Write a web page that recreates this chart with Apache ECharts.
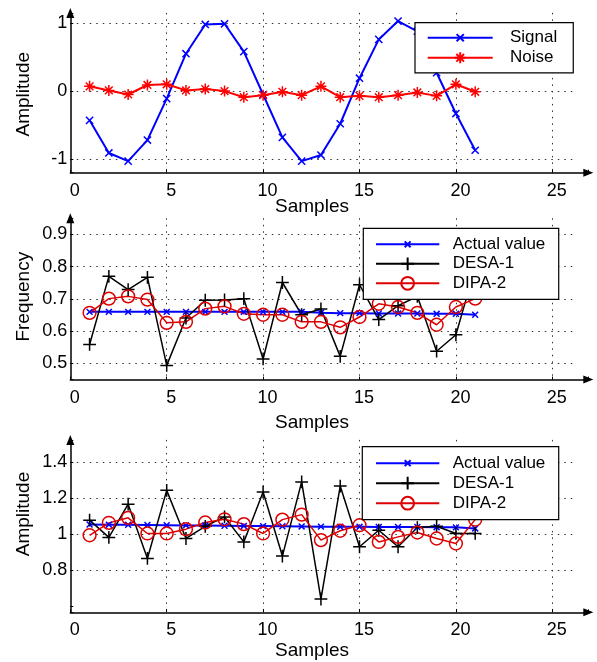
<!DOCTYPE html>
<html>
<head>
<meta charset="utf-8">
<script src="https://cdn.jsdelivr.net/npm/echarts@6/dist/echarts.min.js"></script>
<style>
html, body { margin: 0; padding: 0; background: #fff; }
#chart { width: 597px; height: 662px; }
</style>
</head>
<body>
<div id="chart"></div>
<script>
var samples = [1, 2, 3, 4, 5, 6, 7, 8, 9, 10, 11, 12, 13, 14, 15, 16, 17, 18, 19, 20, 21];

// top panel
var signal = [-0.43, -0.91, -1.03, -0.72, -0.11, 0.55, 0.98, 0.99, 0.58, -0.05, -0.68,
	-1.03, -0.94, -0.48, 0.19, 0.76, 1.03, 0.88, 0.27, -0.33, -0.87];
var noise = [0.07, 0.01, -0.05, 0.09, 0.10, 0.01, 0.03, 0.00, -0.09, -0.06, -0.01,
	-0.06, 0.07, -0.09, -0.07, -0.09, -0.06, -0.02, -0.07, 0.10, -0.01];

// middle panel (frequency)
var freqActual = [0.66, 0.66, 0.66, 0.66, 0.66, 0.66, 0.66, 0.66, 0.66, 0.66, 0.66,
	0.66, 0.657, 0.656, 0.656, 0.655, 0.655, 0.655, 0.654, 0.654, 0.651];
var freqDesa = [0.559, 0.770, 0.729, 0.767, 0.494, 0.641, 0.696, 0.697, 0.701, 0.514, 0.751,
	0.651, 0.669, 0.522, 0.744, 0.636, 0.679, 0.708, 0.538, 0.589, 0.797];
var freqDipa = [0.657, 0.701, 0.708, 0.698, 0.626, 0.629, 0.670, 0.677, 0.654, 0.651, 0.651,
	0.629, 0.629, 0.612, 0.644, 0.685, 0.675, 0.657, 0.620, 0.675, 0.701];

// bottom panel (amplitude)
var ampActual = [1.054, 1.053, 1.052, 1.051, 1.050, 1.049, 1.048, 1.047, 1.046, 1.045, 1.044,
	1.043, 1.042, 1.041, 1.041, 1.040, 1.040, 1.040, 1.039, 1.038, 1.032];
var ampDesa = [1.078, 0.982, 1.167, 0.865, 1.244, 0.976, 1.044, 1.096, 0.957, 1.235, 0.878,
	1.291, 0.639, 1.268, 0.930, 1.022, 0.930, 1.037, 1.044, 1.004, 1.004];
var ampDipa = [0.994, 1.063, 1.091, 1.004, 1.004, 1.028, 1.065, 1.083, 1.056, 1.004, 1.081,
	1.109, 0.967, 1.019, 1.050, 0.957, 0.985, 1.009, 0.976, 0.948, 1.081];

// tick labels
var xTicks = [0, 5, 10, 15, 20, 25];
var signalTicks = [-1, 0, 1];
var freqTicks = [0.5, 0.6, 0.7, 0.8, 0.9];
var ampTicks = [0.8, 1, 1.2, 1.4];

var FONT = '"Liberation Sans", Arial, Helvetica, sans-serif';
var X0 = 70.3, UX = 19.28, XMAX = 26.3, XEND = 588.3;

// marker shapes drawn inside a 100x100 box (the M0,0M100,100 keeps the box size)
var SYM_X_BIG = 'path://M0,0M100,100M22,22L78,78M78,22L22,78';
var SYM_X_SMALL = 'path://M0,0M100,100M27,27L73,73M73,27L27,73';
var SYM_STAR = 'path://M0,0M100,100M50,7L50,93M7,50L93,50M20,20L80,80M80,20L20,80';
var SYM_PLUS = 'path://M50,0L50,100M0,50L100,50';
var SYM_SIZE = 12.8;

function pairs(ys) {
	return samples.map(function (x, i) { return [x, ys[i]]; });
}

function hasTick(list, v) {
	return list.some(function (t) { return Math.abs(t - v) < 1e-6; });
}

// echarts adds the axis ends as extra ticks, only colour the real grid lines
function gridColors(min, max, step, list) {
	var vals = [];
	var k0 = Math.ceil(min / step - 1e-9);
	if (k0 * step - min > 1e-9) vals.push(min);
	for (var k = k0; k * step <= max + 1e-9; k++) vals.push(+(k * step).toFixed(6));
	if (max - vals[vals.length - 1] > 1e-9) vals.push(max);
	return vals.map(function (v) { return hasTick(list, v) ? '#333' : 'rgba(0,0,0,0)'; });
}

var panels = [
	{ top: 12.9, bottom: 172.7, min: -1.2, max: 1.15, step: 1, split: 2, ticks: signalTicks, title: 'Amplitude', titleY: 94.2, xlabY: 207 },
	{ top: 218.3, bottom: 379.6, min: 0.45, max: 0.95, step: 0.1, split: 5, ticks: freqTicks, title: 'Frequency', titleY: 296.7, xlabY: 423 },
	{ top: 439.9, bottom: 612.3, min: 0.565, max: 1.525, step: 0.2, split: 5, ticks: ampTicks, title: 'Amplitude', titleY: 514, xlabY: 650.7 }
];

var grids = [], xAxes = [], yAxes = [], graphics = [];
var axisLineStyle = { color: '#000', width: 1.5 };
var dotted = [1.5, 5];

panels.forEach(function (p, i) {
	// plotting area
	grids.push({ left: X0, top: p.top, width: XMAX * UX, height: p.bottom - p.top, containLabel: false, outerBoundsMode: 'none' });
	xAxes.push({
		type: 'value', gridIndex: i, min: 0, max: XMAX, interval: 5,
		axisLine: { show: false }, axisTick: { show: false }, axisLabel: { show: false },
		splitLine: { show: true, lineStyle: { color: gridColors(0, XMAX, 5, [5, 10, 15, 20, 25]), type: dotted, width: 1 } }
	});
	yAxes.push({
		type: 'value', gridIndex: i, min: p.min, max: p.max, splitNumber: p.split,
		axisLine: { show: true, onZero: false, symbol: ['none', 'triangle'], symbolSize: [8, 10], lineStyle: axisLineStyle },
		axisTick: { show: true, inside: true, length: 3, lineStyle: { color: '#000', width: 1 } },
		axisLabel: {
			fontSize: 18, color: '#000', fontFamily: FONT, margin: 3,
			formatter: function (v) { return hasTick(p.ticks, v) ? String(v) : ''; }
		},
		splitLine: { show: true, lineStyle: { color: gridColors(p.min, p.max, p.step, p.ticks), type: dotted, width: 1 } }
	});

	graphics.push({
		type: 'text', x: 24, y: p.titleY, rotation: Math.PI / 2,
		style: { text: p.title, fontSize: 19, fontFamily: FONT, fill: '#000', align: 'center', verticalAlign: 'middle', textAlign: 'center', textVerticalAlign: 'middle' }
	});
	graphics.push({
		type: 'text', x: 312, y: p.xlabY,
		style: { text: 'Samples', fontSize: 19, fontFamily: FONT, fill: '#000', align: 'center', verticalAlign: 'middle', textAlign: 'center', textVerticalAlign: 'middle' }
	});
});

// wider grids only for the x axis line with its arrow
panels.forEach(function (p, i) {
	grids.push({ left: X0, top: p.top, width: XEND - X0, height: p.bottom - p.top, containLabel: false, outerBoundsMode: 'none' });
	xAxes.push({
		type: 'value', gridIndex: 3 + i, min: 0, max: (XEND - X0) / UX, interval: 5,
		axisLine: { show: true, onZero: false, symbol: ['none', 'triangle'], symbolSize: [8, 10], lineStyle: axisLineStyle },
		axisTick: { show: true, inside: true, length: 3, lineStyle: { color: '#000', width: 1 } },
		axisLabel: {
			fontSize: 18, color: '#000', fontFamily: FONT, margin: 9, padding: [0, 0, 0, 9],
			formatter: function (v) { return hasTick(xTicks, v) ? String(v) : ''; }
		},
		splitLine: { show: false }
	});
	yAxes.push({ type: 'value', gridIndex: 3 + i, min: 0, max: 1, show: false });
});

function lineSeries(name, panel, ys, symbol, color, width, fill) {
	return {
		name: name, type: 'line', xAxisIndex: panel, yAxisIndex: panel,
		data: pairs(ys), symbol: symbol, symbolSize: SYM_SIZE, showAllSymbol: true,
		lineStyle: { color: color, width: width },
		itemStyle: { color: fill || color, borderColor: color, borderWidth: 1.5 },
		emphasis: { disabled: true }
	};
}

var BLUE = '#0000ff', RED = '#ff0000', DRED = '#dd0000', BLACK = '#000000', NOFILL = 'rgba(0,0,0,0)';

var series = [
	lineSeries('Signal', 0, signal, SYM_X_BIG, BLUE, 2, NOFILL),
	lineSeries('Noise', 0, noise, SYM_STAR, RED, 2, NOFILL),
	lineSeries('Actual value', 1, freqActual, SYM_X_SMALL, BLUE, 2, NOFILL),
	lineSeries('DESA-1', 1, freqDesa, SYM_PLUS, BLACK, 1.5, NOFILL),
	lineSeries('DIPA-2', 1, freqDipa, 'circle', DRED, 1.5, NOFILL),
	lineSeries('Actual value', 2, ampActual, SYM_X_SMALL, BLUE, 2, NOFILL),
	lineSeries('DESA-1', 2, ampDesa, SYM_PLUS, BLACK, 1.5, NOFILL),
	lineSeries('DIPA-2', 2, ampDipa, 'circle', DRED, 1.5, NOFILL)
];

function legendBox(names, left, top, pad, itemWidth, gap, textGap) {
	return {
		data: names, orient: 'vertical', left: left, top: top, padding: pad,
		itemWidth: itemWidth, itemHeight: 16, itemGap: gap, selectedMode: false,
		backgroundColor: '#fff', borderColor: '#000', borderWidth: 1.2, borderRadius: 0,
		textStyle: { fontSize: 17, color: '#000', fontFamily: FONT, padding: [0, 0, 0, textGap] }
	};
}

var chart = echarts.init(document.getElementById('chart'));
chart.setOption({
	animation: false,
	backgroundColor: '#fff',
	textStyle: { fontFamily: FONT },
	grid: grids,
	xAxis: xAxes,
	yAxis: yAxes,
	legend: [
		legendBox(['Signal', 'Noise'], 415, 22.7, [6.5, 16, 6.5, 11.7], 65, 3.1, 12.3),
		legendBox(['Actual value', 'DESA-1', 'DIPA-2'], 363.3, 228.3, [7.5, 13.4, 7.5, 11.7], 63.3, 2.5, 8.4),
		legendBox(['Actual value', 'DESA-1', 'DIPA-2'], 362.3, 446.7, [8, 13.4, 8, 12.7], 63.3, 3, 8.4)
	],
	graphic: graphics,
	series: series
});
</script>
</body>
</html>
